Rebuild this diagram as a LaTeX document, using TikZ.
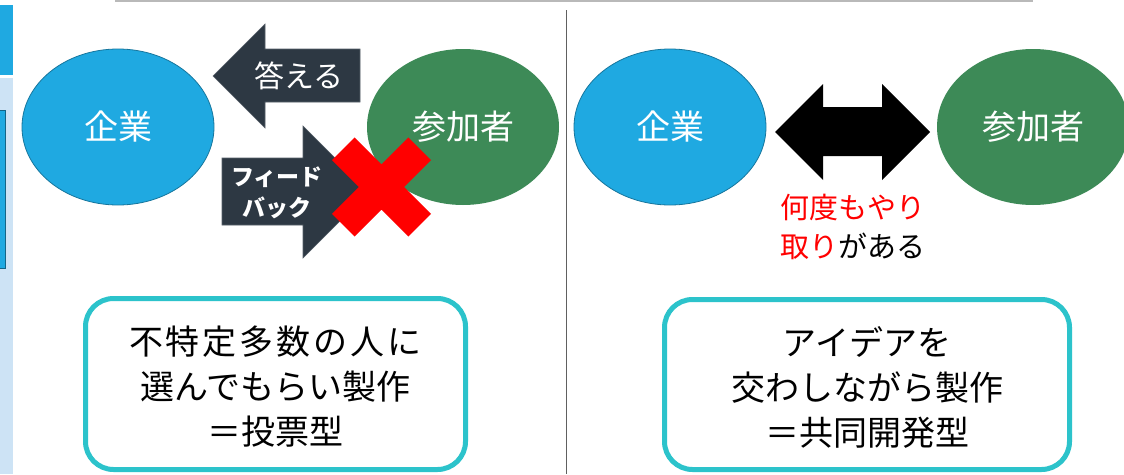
\documentclass[tikz,border=0pt]{standalone}
\usepackage{fontspec}
\setmainfont{Noto Sans CJK JP}
\usetikzlibrary{shapes.geometric}
\definecolor{entblue}{HTML}{1FA9E1}
\definecolor{partgreen}{HTML}{3D8A57}
\definecolor{arrowdark}{HTML}{2D3843}
\definecolor{boxteal}{HTML}{2CC3CB}
\definecolor{stripblue}{HTML}{CDE3F5}
\newcommand{\gapx}{\hspace{3pt}}
\tikzset{
  ent/.style={ellipse, fill=entblue, draw=entblue!70!black, line width=0.8pt,
    minimum width=192pt, minimum height=156pt, text=white, inner sep=0pt,
    font=\fontsize{34}{40}\selectfont},
  part/.style={ellipse, fill=partgreen, draw=none,
    minimum width=192pt, minimum height=156pt, text=white, inner sep=0pt,
    font=\fontsize{34}{40}\selectfont},
  infobox/.style={draw=boxteal, line width=5pt, rounded corners=28pt, fill=white},
  boxtext/.style={align=center, inner sep=0pt, font=\fontsize{34}{45}\selectfont},
  blockarrow/.style={fill=arrowdark, draw=arrowdark!80!white, line width=0.6pt},
}
\begin{document}
\begin{tikzpicture}[x=1pt,y=-1pt]
\useasboundingbox (0,0) rectangle (1124,474);
\fill[white] (0,0) rectangle (1124,474);
% left strip
\fill[entblue] (0,5) rectangle (13,75);
\fill[stripblue] (0,78) rectangle (13,474);
\filldraw[fill=entblue, draw=entblue!60!black, line width=0.8pt] (-2,110) rectangle (5,268);
% top rule and divider
\draw[line width=2pt, gray!55] (115,1) -- (1033,1);
\draw[line width=1.5pt, gray!75!black] (566.5,10) -- (566.5,474);

% ---- left panel ----
\node[ent] (firmL) at (118,127) {企業};
\node[part] (partL) at (463,127) {参加者};
\filldraw[blockarrow] (213,76) -- (265,24) -- (265,49) -- (360,49) -- (360,102)
  -- (265,102) -- (265,128) -- cycle;
\node[text=white, inner sep=0pt, font=\fontsize{30}{36}\selectfont] (answer) at (299,76) {答える};
\filldraw[blockarrow] (222,158) -- (303,158) -- (303,126) -- (369,192) -- (303,258)
  -- (303,225) -- (222,225) -- cycle;
\node[text=white, align=center, inner sep=0pt, font=\bfseries\fontsize{23}{31}\selectfont] (feedback) at (277,192.5) {フィード\\バック};
\draw[red, line width=32pt] (343.3,148.8) -- (419.7,225.2) (343.3,225.2) -- (419.7,148.8);

\node[infobox, minimum width=380pt, minimum height=171pt] (boxL) at (275.5,384) {};
\node[boxtext] (textL) at (275.5,387) {不\gapx 特\gapx 定\gapx 多\gapx 数\gapx の\gapx 人\gapx に\\選んでもらい製作\\＝投票型};

% ---- right panel ----
\node[ent] (firmR) at (670,127) {企業};
\node[part] (partR) at (1033,127) {参加者};
\fill[black] (775,132) -- (823,84) -- (823,107) -- (882,107) -- (882,84) -- (930,132)
  -- (882,180) -- (882,156) -- (823,156) -- (823,180) -- cycle;
\node[align=center, inner sep=0pt, font=\fontsize{29}{39}\selectfont] (often) at (853,227)
  {\textcolor{red}{何度もやり}\\\textcolor{red}{取り}がある};

\node[infobox, minimum width=405pt, minimum height=170pt] (boxR) at (867,384.5) {};
\node[boxtext] (textR) at (867,387) {アイデアを\\交わしながら製作\\＝共同開発型};
\end{tikzpicture}
\end{document}
